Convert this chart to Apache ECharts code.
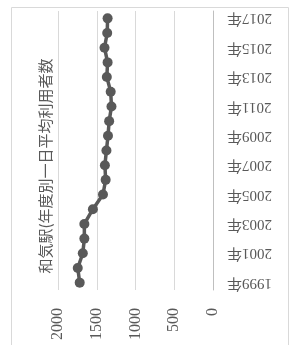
<!DOCTYPE html>
<html>
<head>
<meta charset="utf-8">
<script src="https://cdn.jsdelivr.net/npm/echarts@6/dist/echarts.min.js"></script>
<style>
    html, body {margin: 0; padding: 0; background: #fff;}
    #container {width: 293px; height: 345px;}
</style>
</head>
<body>
<div id="container"></div>
<script>
var years = ['1999年', '2000年', '2001年', '2002年', '2003年', '2004年', '2005年', '2006年', '2007年', '2008年',
    '2009年', '2010年', '2011年', '2012年', '2013年', '2014年', '2015年', '2016年', '2017年'];
var riders = [1720, 1745, 1680, 1660, 1660, 1550, 1420, 1385, 1395, 1375,
    1355, 1340, 1310, 1320, 1370, 1360, 1400, 1365, 1360];
var titleText = '和気駅(年度別一日平均利用者数';
var valueTicks = [0, 500, 1000, 1500, 2000];

initChart(echarts);

function initChart(echarts) {
    var myChart = echarts.init(document.getElementById('container'));
    var serif = '"Liberation Serif", "DejaVu Serif", "Noto Sans CJK JP", serif';
    var option = {
        animation: false,
        graphic: [
            {
                type: 'rect',
                shape: {x: 11.5, y: 7.5, width: 277, height: 345},
                style: {fill: 'none', stroke: '#d9d9d9', lineWidth: 1}
            },
            {
                type: 'text',
                x: 45,
                y: 166,
                rotation: Math.PI / 2,
                style: {
                    text: titleText,
                    fill: '#595959',
                    font: '15px "Noto Sans CJK JP"',
                    align: 'center',
                    verticalAlign: 'middle'
                }
            }
        ],
        grid: {left: 58, right: 80, top: 11, bottom: 55},
        xAxis: {
            type: 'value',
            inverse: true,
            min: valueTicks[0],
            max: valueTicks[valueTicks.length - 1],
            interval: 500,
            position: 'bottom',
            axisLine: {show: false},
            axisTick: {show: false},
            splitLine: {lineStyle: {color: '#d9d9d9', width: 1}},
            axisLabel: {
                rotate: 90,
                margin: 18,
                color: '#595959',
                fontSize: 16,
                fontFamily: serif,
                formatter: function (v) { return String(v); }
            }
        },
        yAxis: {
            type: 'category',
            data: years,
            position: 'right',
            boundaryGap: true,
            axisLine: {lineStyle: {color: '#bfbfbf'}},
            axisTick: {show: false},
            axisLabel: {
                interval: 1,
                rotate: 180,
                margin: 14,
                color: '#595959',
                fontSize: 15,
                fontFamily: serif,
                align: 'right'
            }
        },
        series: [
            {
                name: '利用者数',
                type: 'line',
                data: riders,
                symbol: 'circle',
                symbolSize: 10,
                showAllSymbol: true,
                lineStyle: {color: '#595959', width: 3.5},
                itemStyle: {color: '#595959'}
            }
        ]
    };
    myChart.setOption(option);
}
</script>
</body>
</html>
